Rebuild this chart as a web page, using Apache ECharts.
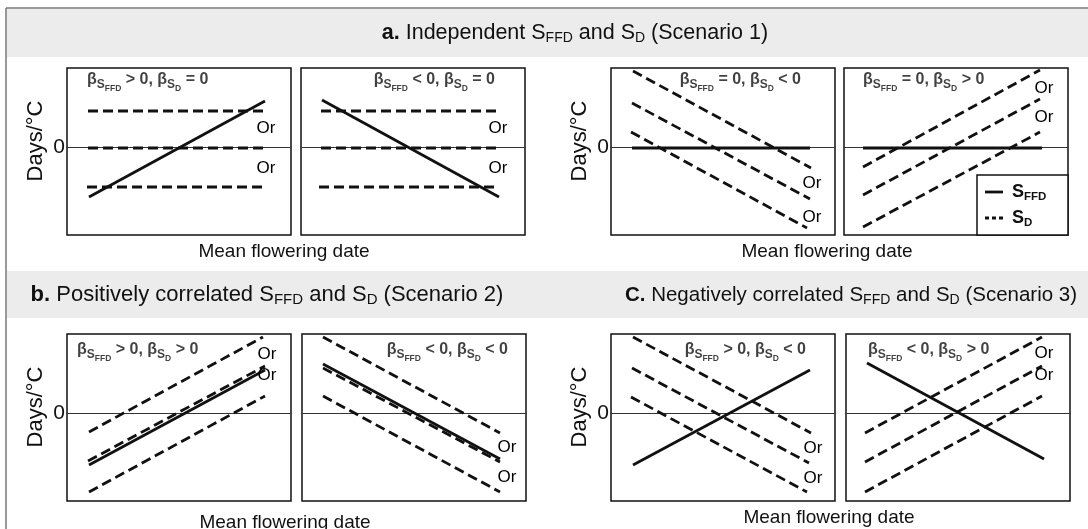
<!DOCTYPE html>
<html><head><meta charset="utf-8">
<script src="https://cdn.jsdelivr.net/npm/echarts@6.0.0/dist/echarts.min.js"></script>
<style>html,body{margin:0;padding:0;background:#fff}#c{width:1088px;height:529px}</style>
</head><body><div id="c"></div>
<script>
// ---------- DATA (conceptual lines: [x, y] in panel units; x 0..224, y -88..79, 0 = zero line) ----------
const a1Solid = [[22, -50], [198, 46]];
const a1Dashed = [[[21, 36], [198, 36]], [[21, -1], [198, -1]], [[20, -40], [196, -40]]];
const a1Or = [[199, 19], [199, -21]];

const a2Solid = [[21, 47], [198, -50]];
const a2Dashed = [[[20, 36], [198, 36]], [[20, -1], [198, -1]], [[18, -40], [198, -40]]];
const a2Or = [[197, 19], [197, -21]];

const a3Solid = [[21, -1], [199, -1]];
const a3Dashed = [[[22, 76], [200, -21]], [[21, 44], [199, -52]], [[20, 15], [196, -81]]];
const a3Or = [[201, -36], [201, -70]];

const a4Solid = [[19, -1], [198, -1]];
const a4Dashed = [[[19, -20], [196, 77]], [[19, -48], [196, 48]], [[19, -80], [196, 15]]];
const a4Or = [[200, 59], [200, 30]];

const b1Solid = [[22, -52], [198, 43]];
const b1Dashed = [[[22, -19], [196, 76]], [[21, -48], [198, 47]], [[22, -79], [198, 17]]];
const b1Or = [[200, 59], [200, 38]];

const b2Solid = [[21, 49], [198, -46]];
const b2Dashed = [[[21, 76], [198, -20]], [[21, 45], [198, -49]], [[21, 17], [198, -79]]];
const b2Or = [[205, -34], [205, -64]];

const c1Solid = [[22, -52], [199, 43]];
const c1Dashed = [[[22, 76], [200, -20]], [[21, 45], [198, -50]], [[20, 16], [196, -79]]];
const c1Or = [[202, -35], [202, -65]];

const c2Solid = [[21, 50], [198, -46]];
const c2Dashed = [[[19, -20], [196, 76]], [[19, -49], [196, 47]], [[19, -79], [196, 17]]];
const c2Or = [[198, 60], [198, 38]];

// panel condition labels (rich text) and their anchor points in panel units
const panelLabels = [
  '{bb|β}{s1|S}{s2|FFD}{bb| > 0, β}{s1|S}{s2|D}{bb| = 0}',
  '{bb|β}{s1|S}{s2|FFD}{bb| < 0, β}{s1|S}{s2|D}{bb| = 0}',
  '{bb|β}{s1|S}{s2|FFD}{bb| = 0, β}{s1|S}{s2|D}{bb| < 0}',
  '{bb|β}{s1|S}{s2|FFD}{bb| = 0, β}{s1|S}{s2|D}{bb| > 0}',
  '{bb|β}{s1|S}{s2|FFD}{bb| > 0, β}{s1|S}{s2|D}{bb| > 0}',
  '{bb|β}{s1|S}{s2|FFD}{bb| < 0, β}{s1|S}{s2|D}{bb| < 0}',
  '{bb|β}{s1|S}{s2|FFD}{bb| > 0, β}{s1|S}{s2|D}{bb| < 0}',
  '{bb|β}{s1|S}{s2|FFD}{bb| < 0, β}{s1|S}{s2|D}{bb| > 0}'
];
const panelLabelPos = [[20, 67], [194, 67], [190, 67], [19, 67], [10, 63], [206, 63], [195, 63], [22, 63]];
const panelLabelAlign = ['left', 'right', 'right', 'left', 'left', 'right', 'right', 'left'];

const sectionTitles = [
  '{tb|a.}{tn| Independent S}{ts|FFD}{tn| and S}{ts|D}{tn| (Scenario 1)}',
  '{tb|b.}{tn| Positively correlated S}{ts|FFD}{tn| and S}{ts|D}{tn| (Scenario 2)}',
  '{tb|C.}{tn| Negatively correlated S}{ts|FFD}{tn| and S}{ts|D}{tn| (Scenario 3)}'
];
const xAxisTitle = 'Mean flowering date';
const yAxisTitle = 'Days/°C';
const zeroLabel = '0';
const orText = 'Or';

// ---------- LAYOUT ----------
const FONT = '"Liberation Sans", Arial, sans-serif';
const INK = '#111';
const PW = 224, PH = 167;
const panelBoxes = [
  [67, 68], [301, 68], [611, 68], [844, 68],
  [67, 334], [302, 334], [611, 334], [846, 334]
];
const solids = [a1Solid, a2Solid, a3Solid, a4Solid, b1Solid, b2Solid, c1Solid, c2Solid];
const dasheds = [a1Dashed, a2Dashed, a3Dashed, a4Dashed, b1Dashed, b2Dashed, c1Dashed, c2Dashed];
const ors = [a1Or, a2Or, a3Or, a4Or, b1Or, b2Or, c1Or, c2Or];

const labelRich = {
  bb: {fontSize: 16, fontWeight: 'bold', fontFamily: FONT, color: INK},
  s1: {fontSize: 12, fontWeight: 'bold', fontFamily: FONT, color: INK, padding: [10, 0, 0, 0]},
  s2: {fontSize: 8.5, fontWeight: 'bold', fontFamily: FONT, color: INK, padding: [17, 0, 0, 0]}
};

const grid = [], xAxis = [], yAxis = [], series = [];
panelBoxes.forEach(function (b, i) {
  grid.push({left: b[0], top: b[1], width: PW, height: PH, show: true,
    borderColor: '#111', borderWidth: 1.5, backgroundColor: '#fff'});
  xAxis.push({gridIndex: i, type: 'value', min: 0, max: PW,
    axisLine: {show: true, onZero: true, lineStyle: {color: '#333', width: 1}},
    axisTick: {show: false}, axisLabel: {show: false}, splitLine: {show: false}});
  yAxis.push({gridIndex: i, type: 'value', min: -88, max: 79,
    axisLine: {show: false}, axisTick: {show: false}, axisLabel: {show: false}, splitLine: {show: false}});
  series.push({type: 'line', xAxisIndex: i, yAxisIndex: i, data: solids[i], symbol: 'none',
    silent: true, z: 4, lineStyle: {color: INK, width: 2.8}});
  dasheds[i].forEach(function (d) {
    series.push({type: 'line', xAxisIndex: i, yAxisIndex: i, data: d, symbol: 'none',
      silent: true, z: 3, lineStyle: {color: INK, width: 2.8, type: [10, 5], cap: 'butt'}});
  });
  series.push({type: 'scatter', xAxisIndex: i, yAxisIndex: i, data: [panelLabelPos[i]], symbolSize: 1,
    silent: true, itemStyle: {color: 'transparent'},
    label: {show: true, position: 'inside', align: panelLabelAlign[i], verticalAlign: 'middle', textBorderWidth: 0,
      formatter: function () { return panelLabels[i]; }, rich: labelRich}});
});

function txt(x, y, text, size, opts) {
  opts = opts || {};
  return {type: 'text', x: x, y: y, rotation: opts.rotation || 0, z: opts.z || 50,
    style: {text: text, fontSize: size, fontFamily: FONT, fontWeight: opts.weight || 'normal',
      fill: opts.fill || INK, align: opts.align || 'center', textAlign: opts.align || 'center',
      verticalAlign: 'middle', textVerticalAlign: 'middle', rich: opts.rich}};
}
function titleRich(size) {
  return {
    tb: {fontSize: size, fontWeight: 'bold', fontFamily: FONT, fill: INK},
    tn: {fontSize: size, fontFamily: FONT, fill: INK},
    ts: {fontSize: Math.round(size * 0.66), fontFamily: FONT, fill: INK, padding: [10, 0, 0, 0]}
  };
}
const legRich = {
  lb: {fontSize: 18, fontWeight: 'bold', fontFamily: FONT, fill: INK},
  ls: {fontSize: 11.5, fontWeight: 'bold', fontFamily: FONT, fill: INK, padding: [10, 0, 0, 0]}
};

const graphic = [
  {type: 'rect', z: 1, shape: {x: 7, y: 9, width: 1081, height: 48}, style: {fill: '#ececec'}},
  {type: 'rect', z: 1, shape: {x: 7, y: 271, width: 1081, height: 47}, style: {fill: '#ececec'}},
  {type: 'line', z: 2, shape: {x1: 6, y1: 8, x2: 1088, y2: 8}, style: {stroke: '#777', lineWidth: 1.5}},
  {type: 'line', z: 2, shape: {x1: 6, y1: 8, x2: 6, y2: 529}, style: {stroke: '#777', lineWidth: 1.5}},
  txt(575, 33, sectionTitles[0], 21.5, {rich: titleRich(21.5)}),
  txt(267, 295, sectionTitles[1], 22, {rich: titleRich(22)}),
  txt(851, 295, sectionTitles[2], 20.5, {rich: titleRich(20.5)}),
  txt(36, 141, yAxisTitle, 22, {rotation: Math.PI / 2}),
  txt(580, 141, yAxisTitle, 22, {rotation: Math.PI / 2}),
  txt(36, 407, yAxisTitle, 22, {rotation: Math.PI / 2}),
  txt(580, 407, yAxisTitle, 22, {rotation: Math.PI / 2}),
  txt(59, 147, zeroLabel, 21), txt(603, 147, zeroLabel, 21),
  txt(59, 413, zeroLabel, 21), txt(603, 413, zeroLabel, 21),
  txt(284, 252, xAxisTitle, 19), txt(827, 252, xAxisTitle, 19),
  txt(285, 523, xAxisTitle, 19), txt(829, 518, xAxisTitle, 19),
  // legend
  {type: 'rect', z: 60, shape: {x: 977, y: 175, width: 91, height: 60}, style: {fill: '#fff', stroke: '#111', lineWidth: 1.5}},
  {type: 'line', z: 61, shape: {x1: 985, y1: 192, x2: 1003, y2: 192}, style: {stroke: INK, lineWidth: 2.8}},
  {type: 'line', z: 61, shape: {x1: 985, y1: 218, x2: 1003, y2: 218}, style: {stroke: INK, lineWidth: 2.8, lineDash: [4, 3]}},
  txt(1012, 192, '{lb|S}{ls|FFD}', 18, {align: 'left', rich: legRich, z: 62}),
  txt(1012, 218, '{lb|S}{ls|D}', 18, {align: 'left', rich: legRich, z: 62})
];

const chart = echarts.init(document.getElementById('c'), null, {renderer: 'canvas'});
chart.setOption({animation: false, backgroundColor: '#fff', grid: grid, xAxis: xAxis, yAxis: yAxis,
  series: series, graphic: graphic});

// "Or" annotations: placed through each panel's own scales
const orGraphics = [];
ors.forEach(function (list, i) {
  list.forEach(function (pt) {
    const px = chart.convertToPixel({gridIndex: i}, pt);
    orGraphics.push(txt(px[0], px[1], orText, 17, {fill: '#000', z: 55}));
  });
});
chart.setOption({graphic: graphic.concat(orGraphics)});
</script></body></html>
